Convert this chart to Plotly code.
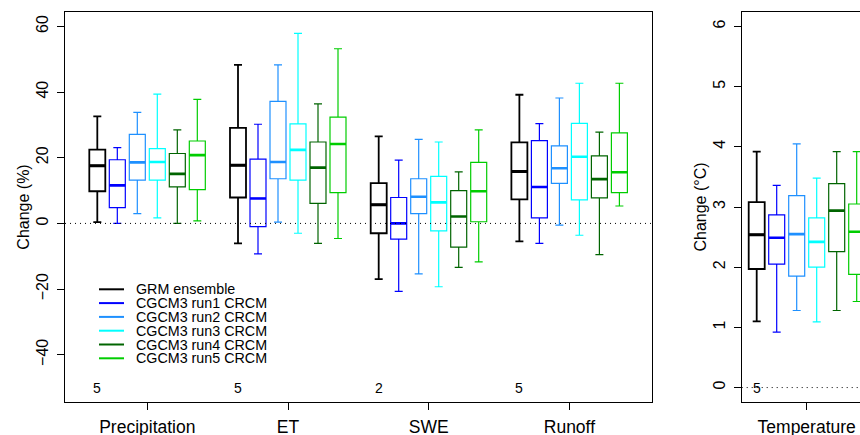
import plotly.graph_objects as go

W, H = 860, 435

variables = ["Precipitation", "ET", "SWE", "Runoff"]
models = ["GRM ensemble", "CGCM3 run1 CRCM", "CGCM3 run2 CRCM",
          "CGCM3 run3 CRCM", "CGCM3 run4 CRCM", "CGCM3 run5 CRCM"]
colors = ["#000000", "#0000FF", "#1E90FF", "#00FFFF", "#006400", "#00CD00"]
ensemble_n = ["5", "5", "2", "5"]
temp_n = "5"

# per model: values for [Precipitation, ET, SWE, Runoff]
lower = [[0.4, -6.1, -17.0, -5.5],
         [0.0, -9.3, -20.7, -6.1],
         [3.0, 0.4, -15.4, -0.5],
         [1.7, -3.0, -19.3, -3.6],
         [0.0, -6.1, -13.4, -9.5],
         [0.8, -4.6, -11.7, 5.3]]
q1 = [[9.8, 7.9, -3.0, 7.3],
      [4.8, -1.0, -4.8, 1.7],
      [13.2, 13.6, 3.0, 12.2],
      [13.2, 13.2, -2.3, 7.2],
      [11.1, 6.1, -7.2, 7.8],
      [10.3, 9.4, 0.5, 9.4]]
median = [[17.6, 17.7, 5.7, 15.8],
          [11.6, 7.6, 0.0, 11.1],
          [18.6, 18.7, 8.1, 16.8],
          [18.7, 22.4, 6.4, 20.3],
          [15.1, 17.0, 2.1, 13.5],
          [20.8, 24.2, 9.8, 15.6]]
q3 = [[22.5, 29.1, 12.3, 24.7],
      [19.4, 19.6, 7.9, 25.2],
      [27.1, 37.2, 13.6, 23.6],
      [22.8, 30.3, 14.3, 30.5],
      [21.3, 24.8, 10.0, 20.6],
      [25.1, 32.4, 18.6, 27.6]]
upper = [[32.6, 48.3, 26.5, 39.2],
         [23.1, 30.2, 19.3, 30.4],
         [33.8, 48.3, 25.6, 38.2],
         [39.4, 57.9, 24.8, 42.7],
         [28.5, 36.4, 15.7, 27.8],
         [37.8, 53.2, 28.5, 42.7]]

# temperature, per model
t_lower = [1.10, 0.92, 1.28, 1.09, 1.28, 1.43]
t_q1 = [1.97, 2.05, 1.85, 2.00, 2.26, 1.88]
t_median = [2.54, 2.49, 2.55, 2.42, 2.94, 2.59]
t_q3 = [3.08, 2.87, 3.19, 2.82, 3.39, 3.05]
t_upper = [3.92, 3.36, 4.05, 3.48, 3.92, 3.92]

FONT = "Liberation Sans, Arial, sans-serif"

# layout geometry (pixels)
L1, R1 = 65.0, 651.7
L2 = 741.7
TOP, BOT = 12.0, 402.0

x1_range = [0.415, 4.585]
px_per_unit1 = (R1 - L1) / (x1_range[1] - x1_range[0])
step1 = 20.0 / px_per_unit1
bw1 = 16.0 / px_per_unit1

px_per_unit2 = 120.0
x2_range = [1 - 65.0 / px_per_unit2, 1 + (W - L2 - 65.0) / px_per_unit2]
step2 = 20.0 / px_per_unit2
bw2 = 16.0 / px_per_unit2

fig = go.Figure()

for i, m in enumerate(models):
    off = (i - 2.5)
    lw = 1.8 if i == 0 else 1.2
    xs = [g + 1 + off * step1 for g in range(len(variables))]
    fig.add_trace(go.Box(
        x=xs, q1=q1[i], median=median[i], q3=q3[i],
        lowerfence=lower[i], upperfence=upper[i],
        width=bw1, whiskerwidth=0.5, boxpoints=False,
        line=dict(color=colors[i], width=lw),
        fillcolor="rgba(0,0,0,0)", name=m, showlegend=False,
        xaxis="x", yaxis="y"))
    # thick median bars
    mx, my = [], []
    for k, xv in enumerate(xs):
        mx += [xv - bw1 / 2, xv + bw1 / 2, None]
        my += [median[i][k], median[i][k], None]
    fig.add_trace(go.Scatter(x=mx, y=my, mode="lines",
                             line=dict(color=colors[i], width=3 if i == 0 else 2.6),
                             showlegend=False, hoverinfo="skip",
                             xaxis="x", yaxis="y"))
    # temperature panel
    xt = 1 + off * step2
    fig.add_trace(go.Box(
        x=[xt], q1=[t_q1[i]], median=[t_median[i]], q3=[t_q3[i]],
        lowerfence=[t_lower[i]], upperfence=[t_upper[i]],
        width=bw2, whiskerwidth=0.5, boxpoints=False,
        line=dict(color=colors[i], width=lw),
        fillcolor="rgba(0,0,0,0)", name=m, showlegend=False,
        xaxis="x2", yaxis="y2"))
    fig.add_trace(go.Scatter(x=[xt - bw2 / 2, xt + bw2 / 2],
                             y=[t_median[i], t_median[i]], mode="lines",
                             line=dict(color=colors[i], width=3 if i == 0 else 2.6),
                             showlegend=False, hoverinfo="skip",
                             xaxis="x2", yaxis="y2"))

shapes = []
annotations = []
# dotted zero lines
shapes.append(dict(type="line", xref="x domain", yref="y", x0=0, x1=1, y0=0, y1=0,
                   line=dict(color="black", width=1, dash="1px,4px")))
shapes.append(dict(type="line", xref="x2 domain", yref="y2", x0=0, x1=1, y0=0, y1=0,
                   line=dict(color="black", width=1, dash="1px,4px")))

# ensemble counts
for g, n in enumerate(ensemble_n):
    annotations.append(dict(x=g + 1 - 2.5 * step1, y=-50, xref="x", yref="y", text=n,
                            showarrow=False, font=dict(size=14, color="black", family=FONT)))
annotations.append(dict(x=1 - 2.5 * step2, y=0, xref="x2", yref="y2", text=temp_n,
                        showarrow=False, font=dict(size=14, color="black", family=FONT)))

# legend (drawn manually, R style)
leg_x0, leg_x1, leg_tx = 99.0, 124.0, 134.0
leg_y0, leg_dy = 289.3, 13.8
for i, m in enumerate(models):
    yy = 1 - (leg_y0 + i * leg_dy) / H
    shapes.append(dict(type="line", xref="paper", yref="paper",
                       x0=leg_x0 / W, x1=leg_x1 / W, y0=yy, y1=yy,
                       line=dict(color=colors[i], width=2)))
    annotations.append(dict(x=leg_tx / W, y=yy, xref="paper", yref="paper", text=m,
                            showarrow=False, xanchor="left", yanchor="middle",
                            font=dict(size=14.3, color="black", family=FONT)))

ydom = [1 - BOT / H, 1 - TOP / H]
axis_common = dict(showline=True, linecolor="black", linewidth=1.3, ticks="outside",
                   ticklen=7, tickwidth=1.3, tickcolor="black", showgrid=False,
                   zeroline=False, color="black", automargin=False)

fig.update_layout(
    width=W, height=H, margin=dict(l=0, r=0, t=0, b=0),
    paper_bgcolor="white", plot_bgcolor="white",
    boxmode="overlay", showlegend=False,
    font=dict(family=FONT, color="black"),
    xaxis=dict(domain=[L1 / W, R1 / W], range=x1_range, mirror=True,
               tickvals=[1, 2, 3, 4], ticktext=variables,
               tickfont=dict(size=17.5, family=FONT), ticklabelstandoff=2,
               **axis_common),
    yaxis=dict(domain=ydom, range=[-54.4, 64.4], mirror=True,
               tickvals=[-40, -20, 0, 20, 40, 60], tickangle=-90,
               tickfont=dict(size=16, family=FONT), ticklabelstandoff=2,
               title=dict(text="Change (%)", font=dict(size=16, family=FONT), standoff=0),
               **axis_common),
    xaxis2=dict(domain=[L2 / W, 1], range=x2_range, mirror=True, anchor="y2",
                tickvals=[1], ticktext=["Temperature"],
                tickfont=dict(size=17.5, family=FONT), ticklabelstandoff=2,
                **axis_common),
    yaxis2=dict(domain=ydom, range=[-0.24, 6.24], anchor="x2",
                tickvals=[0, 1, 2, 3, 4, 5, 6], tickangle=-90,
                tickfont=dict(size=16, family=FONT), ticklabelstandoff=2,
                title=dict(text="Change (°C)", font=dict(size=16, family=FONT), standoff=0),
                **axis_common),
    shapes=shapes, annotations=annotations,
)

fig.write_html("out.html", config={"displayModeBar": False},
               post_script="document.body.style.margin='0';document.body.style.overflow='hidden';")
